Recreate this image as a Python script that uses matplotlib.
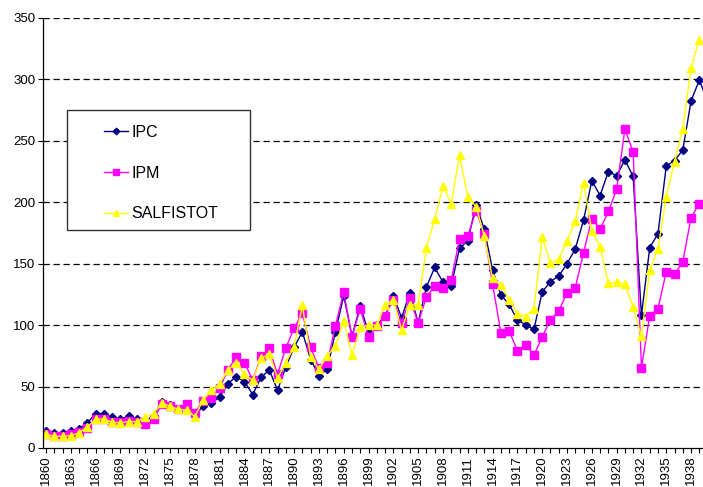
import numpy as np
import matplotlib
matplotlib.use("Agg")
import matplotlib.pyplot as plt
from matplotlib.patches import Rectangle

plt.rcParams['font.family'] = ['Liberation Sans', 'DejaVu Sans']

years = list(range(1860, 1941))

ipc = [13.5, 12.5, 12.5, 13.5, 15.5, 20.5, 28, 28, 25, 23.5, 26, 24, 22.5, 26,
       37.5, 35, 31.5, 33, 26.5, 34, 36.5, 41.5, 52.5, 58, 54, 43.5, 57.5, 63.5, 47, 66,
       82, 94.5, 72, 59, 64, 94.5, 124, 91, 115.5, 94,
       100, 107.5, 124, 106, 126.5, 102, 131, 147, 135, 132,
       162.5, 168.5, 198, 178, 145, 124.5, 117, 104, 100.5, 96.5,
       127, 135.5, 140, 150, 162, 185.5, 217.5, 205.5, 225, 221.5,
       234.5, 221, 108, 163, 174.5, 229.5, 234, 242.5, 282.5, 299.5, 282]

ipm = [11.5, 10, 10, 11, 13, 16.5, 24, 23.5, 21.5, 21, 22, 21.5, 19.5, 23.5,
       35.5, 34, 31.5, 35.5, 28.5, 38.5, 41, 49, 63.5, 74, 69.5, 55, 74.5, 81, 60, 81.5,
       97.5, 110, 82, 65, 69, 99.5, 127, 90.5, 113.5, 90,
       99, 107.5, 120.5, 102, 122, 101.5, 123, 132, 130, 136.5,
       170, 172.5, 193, 174.5, 133.5, 94, 95.5, 79, 84, 75.5,
       90.5, 104.5, 111.5, 126.5, 130.5, 159, 186.5, 178, 192.5, 210.5,
       259.5, 241, 65.5, 107.5, 113.5, 143.5, 141.5, 151.5, 187.5, 199, np.nan]

salfistot = [11, 9.5, 9.5, 10, 12.5, 17, 23.5, 23.5, 21, 20.5, 21.5, 21.5, 25, 28,
             36.5, 34, 31.5, 31, 25.5, 39, 47, 52.5, 63.5, 69.5, 60, 55, 73, 76.5, 57, 69.5,
             82.5, 116, 74, 64, 75, 83, 103.5, 75.5, 98.5, 100,
             100, 116.5, 120.5, 96, 116.5, 116.5, 162.5, 186.5, 213, 199,
             238.5, 204.5, 196.5, 172.5, 138, 132.5, 120.5, 109, 107, 113.5,
             171.5, 150.5, 153.5, 168.5, 185, 216, 176.5, 164, 134, 135,
             133.5, 114.5, 91, 145, 162, 204.5, 233, 260, 309.5, 332.5, np.nan]

labels = ['IPC', 'IPM', 'SALFISTOT']
y_ticks = [0, 50, 100, 150, 200, 250, 300, 350]

W, H = 703, 487
fig = plt.figure(figsize=(W / 100, H / 100), dpi=100)
left, bottom, top = 43, 448, 18
ax = fig.add_axes([left / W, (H - bottom) / H, 1 - left / W, (bottom - top) / H])

styles = [
    dict(color='#000080', marker='D', markersize=4.2),
    dict(color='#FF00FF', marker='s', markersize=5.5),
    dict(color='#FFFF00', marker='^', markersize=6),
]
series = [ipc, ipm, salfistot]
handles = []
for data, st, lab in zip(series, styles, labels):
    h, = ax.plot(years, data, lw=1.0, color=st['color'], marker=st['marker'],
                 markersize=st['markersize'], markerfacecolor=st['color'],
                 markeredgecolor=st['color'], label=lab, clip_on=True)
    handles.append(h)

px_per_year = 8.27
x0 = 1860 - 3 / px_per_year
x1 = 1860 + (W - 46) / px_per_year
ax.set_xlim(x0, x1)
ax.set_ylim(0, 350)

ax.set_yticks(y_ticks)
ax.set_yticklabels([str(v) for v in y_ticks], fontsize=9.5)
for v in y_ticks[1:]:
    ax.axhline(v, color='black', lw=0.9, ls=(0, (5, 3)), zorder=0.5)

ax.set_xticks(years[:-1])
ax.set_xticklabels([str(y) if (y - 1860) % 3 == 0 else '' for y in years[:-1]],
                   rotation=90, fontsize=9.5)
ax.tick_params(axis='x', length=3.5, width=0.8, pad=2)
ax.tick_params(axis='y', length=3.5, width=0.8, pad=2)

for s in ['top', 'right']:
    ax.spines[s].set_visible(False)
for s in ['left', 'bottom']:
    ax.spines[s].set_linewidth(0.9)
    ax.spines[s].set_color('black')

# legend
box = Rectangle((67 / W, 1 - 230 / H), (250 - 67) / W, (230 - 110) / H,
                transform=fig.transFigure, facecolor='white', edgecolor='#333333',
                lw=1.0, zorder=5)
fig.patches.append(box)
leg = fig.legend(handles=handles, labels=labels, loc='upper left',
                 bbox_to_anchor=(96 / W, 1 - 117 / H), frameon=False,
                 fontsize=11.5, labelspacing=1.6, handlelength=1.5,
                 handletextpad=0.2, borderpad=0, markerscale=0.8)
leg.set_zorder(6)

fig.savefig('out.png', dpi=100)
